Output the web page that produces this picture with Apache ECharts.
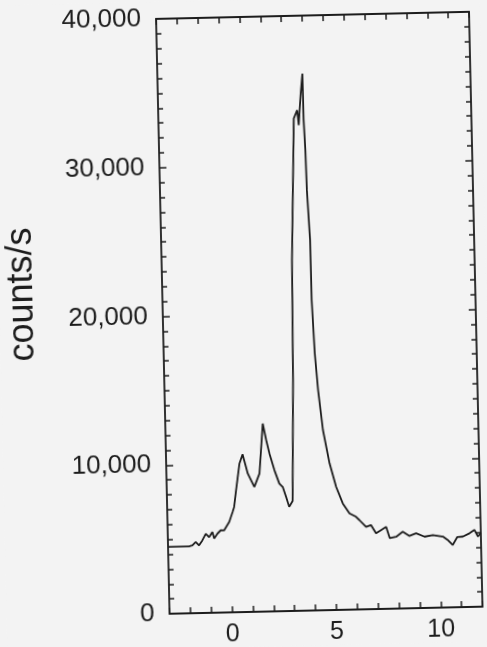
<!DOCTYPE html>
<html>
<head>
<meta charset="utf-8">
<script src="https://cdn.jsdelivr.net/npm/echarts@6/dist/echarts.min.js"></script>
<style>
  html, body { margin: 0; padding: 0; background: #f3f3f3; overflow: hidden; }
  /* the scanned figure sits slightly tilted */
  #chart { width: 487px; height: 647px; transform: rotate(-1.3deg); }
</style>
</head>
<body>
<div id="chart"></div>
<script>
// spectrum: position (x) and counts/s
const positions = [
  -3.00, -2.00, -1.83, -1.67, -1.51, -1.35, -1.18, -1.02, -0.86, -0.78,
  -0.62, -0.46, -0.30, -0.22, -0.04, 0.13, 0.21, 0.32, 0.51, 0.67,
  0.90, 1.20, 1.46, 1.67, 1.82, 1.96, 2.18, 2.40, 2.56, 2.71,
  2.85, 3.02, 3.17, 3.25, 3.49, 3.66, 3.72, 3.84, 3.95, 3.96,
  4.01, 4.04, 4.14, 4.15, 4.24, 4.36, 4.55, 4.83, 5.12, 5.42,
  5.73, 6.04, 6.20, 6.51, 6.75, 6.98, 7.22, 7.47, 7.63, 7.94,
  8.26, 8.58, 8.90, 9.30, 9.70, 10.18, 10.40, 10.64, 10.87, 11.14,
  11.46, 11.70, 11.86, 12.00
]
const counts = [
  4500, 4500, 4560, 4780, 4550, 4880, 5320, 5090, 5430, 4990,
  5310, 5530, 5520, 5640, 6080, 6740, 7080, 8190, 9980, 10600,
  9300, 8390, 9280, 12640, 11510, 10610, 9490, 8580, 8350, 7680,
  7000, 7400, 15510, 23580, 33100, 33650, 32640, 34650, 36100, 33000,
  30950, 28260, 24900, 20860, 17290, 14800, 12100, 9860, 8270, 7150,
  6470, 6230, 6000, 5540, 5650, 5090, 5300, 5520, 4750, 4830,
  5160, 4860, 5030, 4790, 4890, 4770, 4540, 4190, 4720, 4740,
  4950, 5170, 4720, 4960
]
const xLabels = [0, 5, 10]
const yLabels = [0, 10000, 20000, 30000, 40000]

const ink = '#1c1c1c'
const font = "'Liberation Sans', Arial, Helvetica, sans-serif"

function xAxisOf (pos, showLabel) {
  return {
    type: 'value',
    position: pos,
    min: -3,
    max: 12,
    interval: 1,
    axisLine: { onZero: false, lineStyle: { color: ink, width: 1.8 } },
    axisTick: { inside: true, length: 6, lineStyle: { color: ink, width: 1.5 } },
    splitLine: { show: false },
    axisLabel: {
      show: showLabel,
      margin: 10,
      color: ink,
      fontFamily: font,
      fontSize: 25,
      formatter: v => xLabels.indexOf(v) >= 0 ? String(v) : ''
    }
  }
}

function yAxisOf (pos, showLabel) {
  return {
    type: 'value',
    position: pos,
    min: 0,
    max: 40000,
    interval: 10000,
    axisLine: { onZero: false, lineStyle: { color: ink, width: 1.8 } },
    axisTick: { inside: true, length: 7, lineStyle: { color: ink, width: 1.5 } },
    minorTick: { show: true, splitNumber: 10, length: 5, lineStyle: { color: ink, width: 1.5 } },
    splitLine: { show: false },
    minorSplitLine: { show: false },
    axisLabel: {
      show: showLabel,
      margin: 15,
      color: ink,
      fontFamily: font,
      fontSize: 26,
      padding: [6, 0, 0, 0],
      formatter: v => yLabels.indexOf(v) >= 0 ? String(v).replace(/\B(?=(\d{3})+(?!\d))/g, ',') : ''
    }
  }
}

const yLeft = yAxisOf('left', true)
yLeft.name = 'counts/s'
yLeft.nameLocation = 'middle'
yLeft.nameRotate = 90
yLeft.nameGap = 122
yLeft.nameTextStyle = { color: ink, fontFamily: font, fontSize: 36, padding: [0, 0, 0, 50] }

const chart = echarts.init(document.getElementById('chart'))
chart.setOption({
  backgroundColor: '#f3f3f3',
  animation: false,
  grid: { left: 163, right: 11, top: 17, bottom: 35, outerBoundsMode: 'none' },
  xAxis: [xAxisOf('bottom', true), xAxisOf('top', false)],
  yAxis: [yLeft, yAxisOf('right', false)],
  series: [{
    type: 'line',
    data: positions.map((p, i) => [p, counts[i]]),
    showSymbol: false,
    lineStyle: { color: ink, width: 1.8 }
  }]
})
</script>
</body>
</html>
